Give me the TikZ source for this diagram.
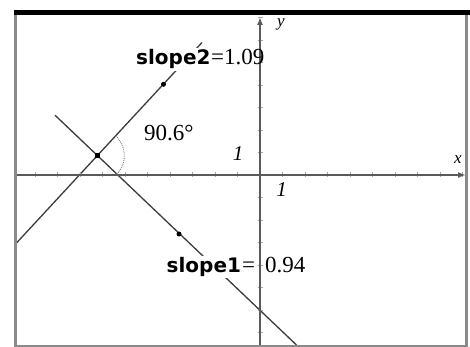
\documentclass[tikz,border=0pt]{standalone}
\usepackage{fontspec}
\setmainfont{Liberation Serif}
\newfontfamily\slopefont{DejaVu Sans}
\usetikzlibrary{arrows.meta}
\definecolor{axisgray}{HTML}{5A5A5A}
\definecolor{linegray}{HTML}{3C3C3C}
\definecolor{framegray}{HTML}{8A8A8A}
\tikzset{
  frameline/.style={draw=framegray, line width=2.5pt},
  topbar/.style={draw=black, line width=5pt},
  axisline/.style={draw=axisgray, line width=1.7pt, -{Latex[length=8pt,width=6pt]}},
  tickmark/.style={draw=gray!70, line width=0.6pt},
  graphline/.style={draw=linegray, line width=1.3pt},
  ptdot/.style={circle, fill=black, inner sep=0pt, minimum size=5pt},
  ptsq/.style={rectangle, fill=black, inner sep=0pt, minimum size=5.5pt},
  anglearc/.style={draw=gray, line width=0.9pt, densely dotted},
  slopelbl/.style={font=\slopefont\bfseries\fontsize{20}{22}\selectfont, fill=white, inner xsep=0.5pt, inner ysep=1.5pt, anchor=base west},
  numlbl/.style={font=\fontsize{23}{25}\selectfont, inner sep=0pt, anchor=base west},
  ticklbl/.style={font=\itshape\fontsize{21}{23}\selectfont, inner sep=0pt},
  axislbl/.style={font=\itshape\fontsize{17}{19}\selectfont, inner sep=0pt}
}
\begin{document}
\begin{tikzpicture}[x=1pt,y=-1pt]
\useasboundingbox[fill=white] (0,0) rectangle (470,347);
% graph lines
\coordinate (L2a) at (15,244.6);
\coordinate (L2b) at (202,42.5);
\coordinate (L1a) at (55,115.2);
\coordinate (L1b) at (296.5,345);
\draw[graphline] (L2a) -- (L2b);
\draw[graphline] (L1a) -- (L1b);
% ticks
\foreach \k in {-10,...,-1,1,2,...,9}
  \draw[tickmark] ({260+22.5*\k},172.5) -- ({260+22.5*\k},177.5);
\foreach \k in {-7,...,-1,1,2,...,7}
  \draw[tickmark] (257.5,{175+22.5*\k}) -- (262.5,{175+22.5*\k});
% axes
\coordinate (xs) at (15,175);
\coordinate (xe) at (466,175);
\coordinate (ys) at (260,346);
\coordinate (ye) at (260,17);
\draw[axisline] (xs) -- (xe);
\draw[axisline] (ys) -- (ye);
\node[axislbl] (xl) at (458,160) {x};
\node[axislbl] (yl) at (281,24) {y};
\node[ticklbl] (t1y) at (238,154) {1};
\node[ticklbl] (t1x) at (281.5,190) {1};
% points
\node[ptsq] (X) at (97.3,155.7) {};
\node[ptdot] (P2) at (163.5,84.3) {};
\node[ptdot] (P1) at (179,234) {};
% angle
\draw[anglearc] (X) ++(-47.2:27) arc[start angle=-47.2, end angle=43.8, radius=27];
\node[numlbl] (ang) at (144,141) {90.6°};
% labels
\node[slopelbl] (s2) at (135.5,65) {slope2};
\node[numlbl] (v2) at (211,65) {=1.09};
\node[slopelbl] (s1) at (166,272.7) {slope1};
\node[numlbl] (e1) at (242,272.7) {=};
\node[numlbl] (v1) at (265,272.7) {0.94};
% frame
\coordinate (fl1) at (15.5,10);
\coordinate (fl2) at (15.5,347);
\coordinate (fr1) at (466.5,10);
\coordinate (fr2) at (466.5,347);
\coordinate (fb1) at (15.5,346);
\coordinate (fb2) at (466.5,346);
\draw[frameline] (fl1) -- (fl2);
\draw[frameline] (fr1) -- (fr2);
\draw[frameline] (fb1) -- (fb2);
\coordinate (tb1) at (14.25,12.5);
\coordinate (tb2) at (470,12.5);
\draw[topbar] (tb1) -- (tb2);
\end{tikzpicture}
\end{document}
